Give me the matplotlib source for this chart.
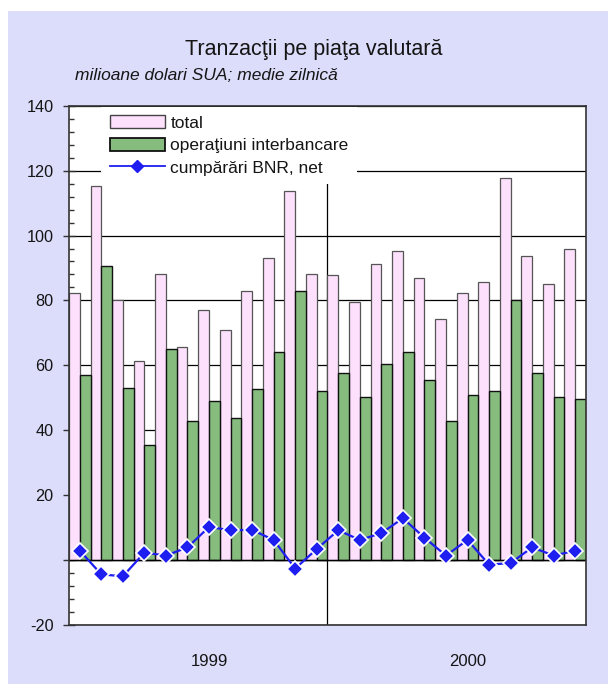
import matplotlib
matplotlib.use('Agg')
import matplotlib.pyplot as plt
from matplotlib.patches import Rectangle, Patch
from matplotlib.lines import Line2D
from matplotlib.ticker import MultipleLocator
import numpy as np

plt.rcParams['font.family'] = ['Liberation Sans', 'DejaVu Sans']

# ---- data (Jan 1999 ... Dec 2000), million USD, daily average ----
total = [82.2, 115.3, 80.0, 61.4, 88.2, 65.8, 76.9, 70.9, 82.8, 93.1, 113.8, 88.2,
         87.7, 79.4, 91.2, 95.1, 86.8, 74.3, 82.3, 85.7, 117.7, 93.6, 85.2, 96.0]
interbancare = [57.0, 90.6, 53.1, 35.4, 65.0, 42.9, 49.1, 43.7, 52.6, 64.0, 82.8, 52.1,
                57.5, 50.2, 60.5, 64.0, 55.6, 42.8, 50.8, 52.1, 80.0, 57.5, 50.2, 49.7]
bnr_net = [2.9, -4.4, -5.0, 2.3, 1.4, 3.9, 10.2, 9.2, 9.3, 6.2, -2.6, 3.4,
           9.2, 6.2, 8.3, 12.9, 6.9, 1.4, 6.2, -1.4, -0.9, 3.9, 1.4, 2.9]
years = ['1999', '2000']
ytick_values = [-20, 0, 20, 40, 60, 80, 100, 120, 140]
ytick_labels = ['-20', '', '20', '40', '60', '80', '100', '120', '140']
series_labels = ['total', 'operaţiuni interbancare', 'cumpărări BNR, net']

lavender = '#DCDCFB'
pink = '#FDE0FC'
green = '#87BC7F'
blue = '#1E1EF0'
txt = '#151515'

W, H = 608, 684
fig = plt.figure(figsize=(W / 100, H / 100), dpi=100)
fig.patch.set_facecolor('white')
fig.patches.append(Rectangle((8 / W, 0), 1 - 8 / W, 1 - 11 / H, transform=fig.transFigure,
                             facecolor=lavender, edgecolor='none', zorder=-10))

left, right, top, bottom = 69, 586, 105.7, 625
ax = fig.add_axes([left / W, 1 - bottom / H, (right - left) / W, (bottom - top) / H])
ax.set_facecolor('white')

x = np.arange(len(total))
ax.bar(x - 0.25, total, width=0.5, color=pink, edgecolor='#555555', linewidth=0.9, zorder=2)
ax.bar(x + 0.25, interbancare, width=0.5, color=green, edgecolor='#111111', linewidth=1.0, zorder=3)
ax.axhline(0, color='black', lw=1.0, zorder=3.5)
ax.axvline(11.5, color='black', lw=0.9, zorder=1.5)
ax.plot(x, bnr_net, color=blue, lw=1.6, marker='D', ms=8.5, mfc=blue, mec='white', mew=1.2, zorder=6)

ax.set_xlim(-0.5, len(total) - 0.5)
ax.set_ylim(-20, 140)
ax.set_yticks(ytick_values)
ax.set_yticklabels(ytick_labels)
ax.yaxis.set_minor_locator(MultipleLocator(4))
ax.yaxis.grid(True, which='major', color='black', lw=0.9, zorder=0)
ax.set_axisbelow(True)
ax.tick_params(axis='y', which='major', direction='inout', length=8, width=1.0,
               color='#333333', labelsize=11.7, labelcolor=txt, pad=7)
ax.tick_params(axis='y', which='minor', direction='in', length=3.5, width=1.0, color='#333333')
ax.set_xticks([6, 18])
ax.set_xticklabels(years)
ax.tick_params(axis='x', length=0, labelsize=12, labelcolor=txt, pad=21)

for s in ax.spines.values():
    s.set_color('#333333')
    s.set_linewidth(1.2)
    s.set_zorder(10)

handles = [Patch(facecolor=pink, edgecolor='#444444', linewidth=1.0),
           Patch(facecolor=green, edgecolor='#111111', linewidth=1.3),
           Line2D([], [], color=blue, lw=1.3, marker='D', ms=6.5, mfc=blue, mec=blue)]
leg = ax.legend(handles, series_labels, loc='upper left',
                bbox_to_anchor=(101 / W, 1 - 106.5 / H), bbox_transform=fig.transFigure,
                fontsize=12.5, frameon=True, facecolor='white', edgecolor='none',
                framealpha=1.0, fancybox=False, borderpad=0.5, borderaxespad=0,
                labelspacing=0.4, handlelength=3.2, handleheight=0.78, handletextpad=0.3)
for t in leg.get_texts():
    t.set_color(txt)
leg.set_zorder(8)

fig.text(314 / W, 1 - 54.5 / H, 'Tranzacţii pe piaţa valutară', ha='center', va='baseline',
         fontsize=15.5, color=txt)
fig.text(75 / W, 1 - 80 / H, 'milioane dolari SUA; medie zilnică', ha='left', va='baseline',
         fontsize=12.5, style='italic', color=txt)

fig.savefig('out.png', dpi=100, facecolor=fig.get_facecolor())
